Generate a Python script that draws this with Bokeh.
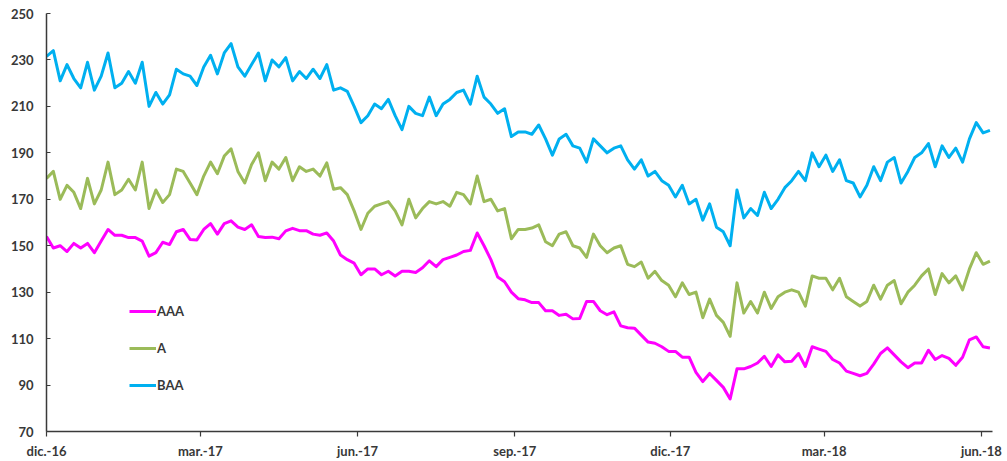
import pandas as pd
from bokeh.plotting import figure
from bokeh.models import Range1d, FixedTicker
from bokeh.embed import file_html
from bokeh.resources import INLINE

START = "2016-12-01"
STEP_DAYS = 4

BAA = [231.5, 234, 221, 228, 222, 218, 229, 217, 223, 233,
       218, 220, 225, 220, 229, 210, 216, 211, 215, 226,
       224, 223, 219, 227, 232, 224, 233, 237, 227, 223,
       228, 233, 221, 230, 227, 231, 221, 225, 222, 226,
       222, 228, 217, 218, 216.5, 210, 203, 206, 211, 209,
       213, 206, 200, 210, 207, 206, 214, 206, 211, 213,
       216, 217, 211, 223, 214, 211, 207, 209, 197, 199,
       199, 198, 202, 196, 189, 196, 198, 193, 192, 186,
       196, 193, 190, 192, 193, 187, 183, 187, 180, 182,
       178, 176, 171, 176, 168, 170, 161, 168, 158, 156,
       150, 174, 162, 166, 163, 173, 166, 170, 175, 178,
       182, 178, 190, 184, 189, 182, 187, 178, 177, 171,
       176, 184, 178, 186, 188, 177, 182, 188, 190, 194,
       184, 193, 188, 192, 186, 196, 203, 198.6, 199.7]

A = [179, 182, 170, 176, 173, 166, 179, 168, 174, 186,
     172, 174, 178.6, 174, 186, 166, 174, 168.6, 172, 183,
     182, 177, 172, 180, 186, 181, 188.6, 191.7, 182, 177,
     185, 190, 178, 186, 183, 188, 178, 184, 182, 183,
     180, 185.7, 174.3, 175, 172, 165, 157, 164, 167, 168,
     169, 165, 159, 170, 162, 166, 169, 168, 169, 167,
     173, 172, 168, 180, 169, 170, 165, 166, 153, 157,
     157, 157.6, 159, 151.7, 150, 155, 156, 150, 149, 145,
     155, 150, 147, 149, 150, 142, 141, 143, 136, 139,
     135, 133, 128, 134, 129, 130, 119, 127, 120, 117,
     111, 134, 121, 126, 121, 130, 123, 128, 130, 131,
     130, 124, 137, 136, 136, 131, 136, 128, 126, 124,
     126, 133, 127, 133, 135, 125, 130, 133, 137, 140,
     129, 138, 134, 137, 131, 140, 147, 142, 143.4]

AAA = [154, 149, 150, 147.5, 151, 149, 151, 147, 152, 157,
       154.5, 154.5, 153.5, 153.5, 152, 145.5, 147, 151.5, 150.5, 156,
       157, 152.7, 152.5, 157, 159.5, 155, 159.5, 160.7, 158, 157,
       159, 154, 153.5, 153.7, 153, 156.4, 157.5, 156.5, 156.5, 155,
       154.5, 155.5, 152, 146, 144, 142.5, 137.5, 140, 140, 137.5,
       139, 137, 139, 139, 138.5, 140.5, 143.5, 141, 144, 145,
       146, 147.5, 148, 155.5, 150, 144, 136.5, 134.5, 130, 127.2,
       126.7, 125.5, 125.5, 122, 122, 120, 120.5, 118.5, 118.7, 126,
       126, 122, 120.3, 121.5, 115.5, 114.7, 114.5, 111.5, 108.5, 108,
       106.5, 104.5, 104.5, 102, 102, 95.5, 91.5, 95, 92, 89,
       84, 97, 97, 98, 99.5, 102.4, 98, 103, 100, 100.3,
       103.6, 98, 106.5, 105.5, 104.5, 101, 99.5, 96, 95, 94,
       95, 99, 103.6, 106, 103, 100, 97.5, 99.5, 99.5, 105,
       101, 102.7, 101.5, 98.5, 102, 109.5, 110.7, 106.5, 106]

X_TICK_DATES = ["2016-12-01", "2017-03-01", "2017-06-01", "2017-09-01",
                "2017-12-01", "2018-03-01", "2018-06-01"]
X_TICK_LABELS = ["dic.-16", "mar.-17", "jun.-17", "sep.-17",
                 "dic.-17", "mar.-18", "jun.-18"]
Y_TICKS = [70, 90, 110, 130, 150, 170, 190, 210, 230, 250]
X_END_DATE = "2018-06-07"

SERIES = [("AAA", AAA, "#FF00FF"), ("A", A, "#9BBB59"), ("BAA", BAA, "#00B0F0")]

# ---- build ----
start = pd.Timestamp(START)
dates = pd.date_range(start, periods=len(BAA), freq=f"{STEP_DAYS}D")
xdays = [(d - start).days for d in dates]
tick_days = [(pd.Timestamp(d) - start).days for d in X_TICK_DATES]
x_end = (pd.Timestamp(X_END_DATE) - start).days

TXT = "#383838"
FONT = "Lato"

p = figure(width=1007, height=461, output_backend="svg", toolbar_location=None,
           x_range=Range1d(0, x_end + 0.5), y_range=Range1d(70, 250),
           min_border_left=46, min_border_right=15, min_border_top=13,
           min_border_bottom=29)
p.outline_line_color = None
p.xgrid.visible = False
p.ygrid.visible = False
p.background_fill_color = "white"
p.border_fill_color = "white"

for name, vals, col in SERIES:
    p.line(xdays, vals, line_color=col, line_width=3, line_join="round",
           legend_label=name)

# axes
p.yaxis.ticker = FixedTicker(ticks=Y_TICKS)
p.yaxis.major_tick_in = 4
p.yaxis.major_tick_out = 0
p.yaxis.minor_tick_line_color = None
p.yaxis.major_label_standoff = 13

p.xaxis.ticker = FixedTicker(ticks=tick_days)
p.xaxis.major_label_overrides = {t: lab for t, lab in zip(tick_days, X_TICK_LABELS)}
p.xaxis.major_tick_in = 0
p.xaxis.major_tick_out = 5
p.xaxis.minor_tick_line_color = None
p.xaxis.major_label_standoff = 6

for ax in (p.xaxis[0], p.yaxis[0]):
    ax.axis_line_color = "#3a3a3a"
    ax.axis_line_width = 1.5
    ax.major_tick_line_color = "#3a3a3a"
    ax.major_tick_line_width = 1.2
    ax.major_label_text_font = FONT
    ax.major_label_text_font_style = "bold"
    ax.major_label_text_font_size = "13px"
    ax.major_label_text_color = TXT

# legend
lg = p.legend[0]
lg.location = (83, 36)
lg.padding = 0
lg.margin = 0
lg.border_line_color = None
lg.background_fill_alpha = 0
lg.glyph_width = 27
lg.glyph_height = 20
lg.label_height = 20
lg.label_standoff = 1
lg.spacing = 17
lg.label_text_font = FONT
lg.label_text_font_style = "bold"
lg.label_text_font_size = "13px"
lg.label_text_color = TXT

open("out.html", "w").write(file_html(p, INLINE))
